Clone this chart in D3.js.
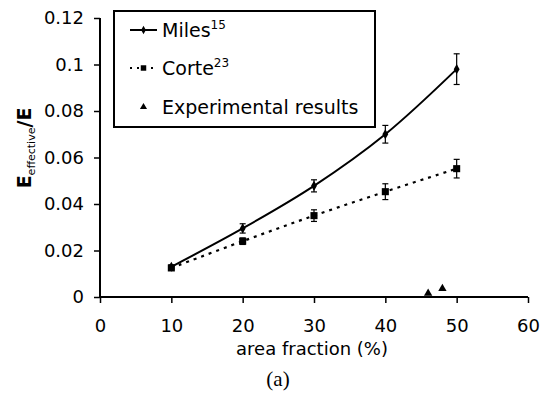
<!DOCTYPE html>
<html>
<head>
<meta charset="utf-8">
<script src="https://cdn.jsdelivr.net/npm/d3@7"></script>
<style>
  html, body { margin: 0; padding: 0; background: #fff; }
  svg { display: block; font-family: "DejaVu Sans", Verdana, sans-serif; }
</style>
</head>
<body>
<svg id="chart" width="545" height="393"></svg>
<script>
// Area fraction (%) and effective stiffness ratio
const areaFraction = [10, 20, 30, 40, 50];
const milesValues = [0.013, 0.0295, 0.0478, 0.0700, 0.0980];
const milesErrors = [0.0008, 0.0020, 0.0026, 0.0038, 0.0066];
const corteValues = [0.0125, 0.0240, 0.0350, 0.0453, 0.0552];
const corteErrors = [0.0006, 0.0014, 0.0025, 0.0034, 0.0040];
const expFraction = [46, 48];
const expValues = [0.0016, 0.0036];
const xTicks = [0, 10, 20, 30, 40, 50, 60];
const yTicks = [0, 0.02, 0.04, 0.06, 0.08, 0.1, 0.12];

const svg = d3.select("#chart");
const x = d3.scaleLinear().domain([0, 60]).range([100, 528]);
const y = d3.scaleLinear().domain([0, 0.12]).range([297, 18]);

// Axes
const xAxis = d3.axisBottom(x).tickValues(xTicks).tickSize(6).tickPadding(16)
  .tickFormat(d3.format("d"));
const yAxis = d3.axisLeft(y).tickValues(yTicks).tickSize(6).tickPadding(10)
  .tickFormat(d => d === 0 ? "0" : String(+d.toFixed(2)));

const gx = svg.append("g").attr("transform", `translate(0,${y(0)})`).call(xAxis);
const gy = svg.append("g").attr("transform", `translate(${x(0)},0)`).call(yAxis);
[gx, gy].forEach(g => {
  g.select(".domain").attr("stroke", "#000").attr("stroke-width", 2);
  g.selectAll(".tick line").attr("stroke", "#000").attr("stroke-width", 1.5);
  g.selectAll(".tick text").attr("fill", "#000").style("font-size", "18px")
    .style("font-family", "'DejaVu Sans', Verdana, sans-serif");
});
gx.select(".domain").attr("d", `M${x(0)},0H${x(60)}`);
gy.select(".domain").attr("d", `M0,${y(0)}V${y(0.12)}`);

// Axis titles
svg.append("text").attr("x", 312).attr("y", 355).attr("text-anchor", "middle")
  .style("font-size", "18px").text("area fraction (%)");

const yt = svg.append("text").attr("transform", "translate(31,148) rotate(-90)")
  .attr("text-anchor", "middle").style("font-size", "19px").style("font-weight", "bold");
yt.append("tspan").text("E");
yt.append("tspan").attr("dy", 4).style("font-size", "11px").style("font-weight", "normal").text("effective");
yt.append("tspan").attr("dy", -4).text("/E");

svg.append("text").attr("x", 278).attr("y", 386).attr("text-anchor", "middle")
  .style("font-family", "'Liberation Serif', 'Times New Roman', serif")
  .style("font-size", "21px").text("(a)");

const miles = areaFraction.map((f, i) => ({ f, v: milesValues[i], e: milesErrors[i] }));
const corte = areaFraction.map((f, i) => ({ f, v: corteValues[i], e: corteErrors[i] }));

const line = d3.line().x(d => x(d.f)).y(d => y(d.v)).curve(d3.curveCatmullRom.alpha(0.5));

svg.append("path").datum(miles).attr("d", line)
  .attr("fill", "none").attr("stroke", "#000").attr("stroke-width", 2);
svg.append("path").datum(corte).attr("d", line)
  .attr("fill", "none").attr("stroke", "#000").attr("stroke-width", 2.2)
  .attr("stroke-dasharray", "3,5");

// Error bars
function errorBars(data) {
  const g = svg.append("g").attr("stroke", "#000").attr("stroke-width", 1.2);
  data.forEach(d => {
    const cx = x(d.f), y0 = y(d.v - d.e), y1 = y(d.v + d.e);
    g.append("line").attr("x1", cx).attr("x2", cx).attr("y1", y0).attr("y2", y1);
    g.append("line").attr("x1", cx - 3).attr("x2", cx + 3).attr("y1", y0).attr("y2", y0);
    g.append("line").attr("x1", cx - 3).attr("x2", cx + 3).attr("y1", y1).attr("y2", y1);
  });
}
errorBars(miles);
errorBars(corte);

// Markers
const diamond = d3.symbol().type(d3.symbolDiamond).size(30);
const square = d3.symbol().type(d3.symbolSquare).size(50);
const tri = d3.symbol().type(d3.symbolTriangle).size(30);

svg.append("g").selectAll("path").data(miles).join("path")
  .attr("d", diamond).attr("transform", d => `translate(${x(d.f)},${y(d.v)})`).attr("fill", "#000");
svg.append("g").selectAll("path").data(corte).join("path")
  .attr("d", square).attr("transform", d => `translate(${x(d.f)},${y(d.v)})`).attr("fill", "#000");
svg.append("g").selectAll("path").data(expFraction.map((f, i) => ({ f, v: expValues[i] }))).join("path")
  .attr("d", tri).attr("transform", d => `translate(${x(d.f)},${y(d.v)})`).attr("fill", "#000");

// Legend
const lg = svg.append("g");
lg.append("rect").attr("x", 114).attr("y", 11).attr("width", 261).attr("height", 116)
  .attr("fill", "#fff").attr("stroke", "#000").attr("stroke-width", 2);

const legendRows = [
  { label: "Miles", sup: "15", yy: 30, kind: "miles" },
  { label: "Corte", sup: "23", yy: 68, kind: "corte" },
  { label: "Experimental results", sup: null, yy: 107, kind: "exp" }
];
legendRows.forEach(r => {
  if (r.kind === "miles") {
    lg.append("line").attr("x1", 130).attr("x2", 157).attr("y1", r.yy).attr("y2", r.yy)
      .attr("stroke", "#000").attr("stroke-width", 2);
    lg.append("path").attr("d", d3.symbol().type(d3.symbolDiamond).size(20))
      .attr("transform", `translate(143.5,${r.yy})`);
  } else if (r.kind === "corte") {
    lg.append("line").attr("x1", 130).attr("x2", 157).attr("y1", r.yy).attr("y2", r.yy)
      .attr("stroke", "#000").attr("stroke-width", 2).attr("stroke-dasharray", "2,5");
    lg.append("path").attr("d", d3.symbol().type(d3.symbolSquare).size(30))
      .attr("transform", `translate(143.5,${r.yy})`);
  } else {
    lg.append("path").attr("d", d3.symbol().type(d3.symbolTriangle).size(22))
      .attr("transform", `translate(143.5,${r.yy})`);
  }
  const t = lg.append("text").attr("x", 162).attr("y", r.yy + 7).style("font-size", "19px");
  t.append("tspan").text(r.label);
  if (r.sup) t.append("tspan").attr("dy", -8).style("font-size", "12px").text(r.sup);
});
</script>
</body>
</html>
